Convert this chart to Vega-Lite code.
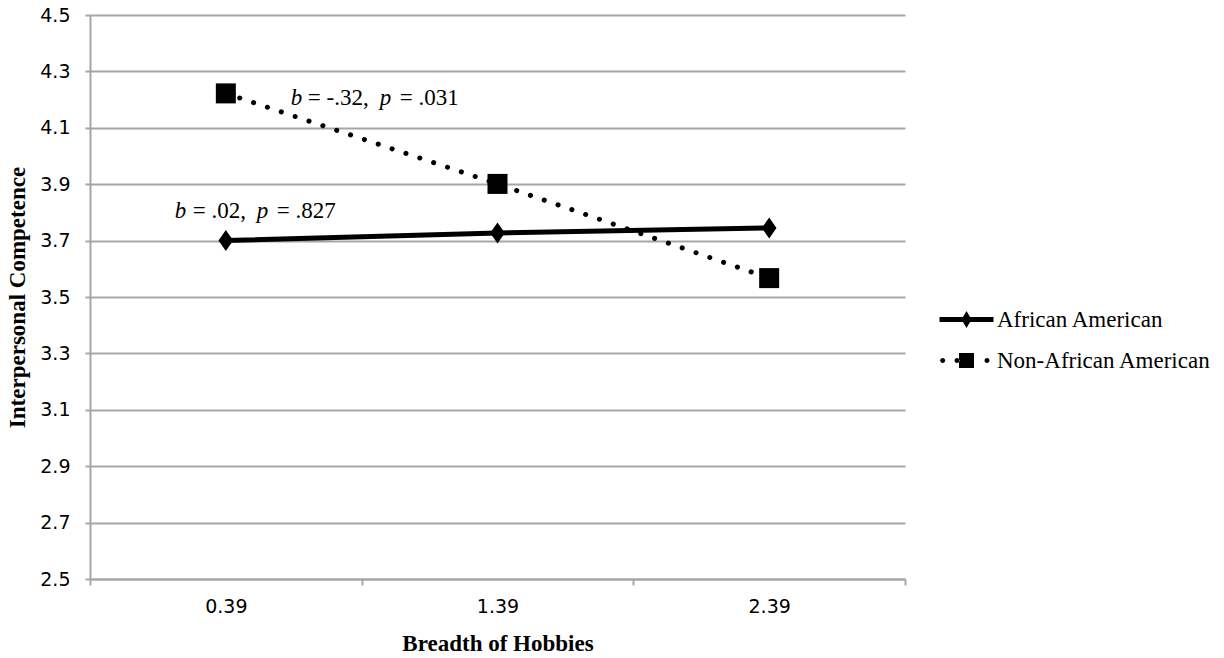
{
  "$schema": "https://vega.github.io/schema/vega-lite/v6.json",
  "width": 815,
  "height": 564,
  "autosize": {"type": "none"},
  "padding": {"left": 90, "top": 15, "right": 319, "bottom": 79},
  "background": "white",
  "config": {
    "view": {"stroke": null},
    "axis": {
      "domainColor": "#a6a6a6",
      "domainWidth": 2,
      "tickColor": "#a6a6a6",
      "tickWidth": 2,
      "gridColor": "#a6a6a6",
      "gridWidth": 2,
      "labelFont": "DejaVu Sans",
      "labelFontSize": 19,
      "labelColor": "black",
      "titleFont": "Liberation Serif",
      "titleFontWeight": "bold",
      "titleFontSize": 23,
      "titleColor": "black"
    }
  },
  "datasets": {
    "pts": [
      {"hobbies": "0.39", "competence": 3.70, "group": "African American"},
      {"hobbies": "1.39", "competence": 3.727, "group": "African American"},
      {"hobbies": "2.39", "competence": 3.745, "group": "African American"},
      {"hobbies": "0.39", "competence": 4.222, "group": "Non-African American"},
      {"hobbies": "1.39", "competence": 3.901, "group": "Non-African American"},
      {"hobbies": "2.39", "competence": 3.567, "group": "Non-African American"}
    ],
    "notes": [
      {"hobbies": "0.39", "competence": 4.181, "which": "n1", "b": "b", "eq1": "= -.32,", "p": "p", "eq2": "= .031"},
      {"hobbies": "0.39", "competence": 3.780, "which": "n2", "b": "b", "eq1": "= .02,", "p": "p", "eq2": "= .827"}
    ]
  },
  "encoding": {
    "x": {
      "field": "hobbies",
      "type": "ordinal",
      "sort": ["0.39", "1.39", "2.39"],
      "scale": {"type": "band", "paddingInner": 0, "paddingOuter": 0},
      "axis": {
        "title": "Breadth of Hobbies",
        "labelAngle": 0,
        "tickBand": "extent",
        "tickSize": 6,
        "labelPadding": 12,
        "titlePadding": 16,
        "grid": false
      }
    },
    "y": {
      "field": "competence",
      "type": "quantitative",
      "scale": {"domain": [2.5, 4.5], "zero": false, "nice": false},
      "axis": {
        "title": "Interpersonal Competence",
        "values": [2.5, 2.7, 2.9, 3.1, 3.3, 3.5, 3.7, 3.9, 4.1, 4.3, 4.5],
        "format": ".1f",
        "tickSize": 5,
        "labelPadding": 15,
        "titlePadding": 10,
        "grid": true
      }
    }
  },
  "layer": [
    {
      "data": {"name": "pts"},
      "transform": [{"filter": "datum.group === 'African American'"}],
      "mark": {"type": "line", "strokeWidth": 5, "strokeCap": "round", "color": "black"},
      "encoding": {}
    },
    {
      "data": {"name": "pts"},
      "transform": [{"filter": "datum.group === 'Non-African American'"}],
      "mark": {"type": "line", "strokeWidth": 5, "strokeCap": "round", "strokeDash": [0.1, 14.5], "color": "black"},
      "encoding": {}
    },
    {
      "data": {"name": "pts"},
      "transform": [{"filter": "datum.group === 'African American'"}],
      "mark": {"type": "point", "filled": true, "opacity": 1, "color": "black", "strokeWidth": 0, "size": 441, "shape": "M-0.7,0L0,-1L0.7,0L0,1Z"},
      "encoding": {}
    },
    {
      "data": {"name": "pts"},
      "transform": [{"filter": "datum.group === 'Non-African American'"}],
      "mark": {"type": "point", "filled": true, "opacity": 1, "color": "black", "strokeWidth": 0, "size": 400, "shape": "square"},
      "encoding": {}
    },
    {
      "data": {"name": "pts"},
      "mark": {"type": "point", "filled": true, "opacity": 0, "color": "black", "strokeWidth": 0, "size": 400},
      "encoding": {
        "shape": {
          "field": "group",
          "type": "nominal",
          "scale": {
            "domain": ["African American", "Non-African American"],
            "range": [
              "M-2.7,-0.25L2.7,-0.25L2.7,0.25L-2.7,0.25Z M-0.5,0L0,-0.85L0.5,0L0,0.85Z",
              "M-2.63,0a0.25,0.25 0 1,0 0.5,0a0.25,0.25 0 1,0 -0.5,0Z M-1.2,0a0.25,0.25 0 1,0 0.5,0a0.25,0.25 0 1,0 -0.5,0Z M1.8,0a0.25,0.25 0 1,0 0.5,0a0.25,0.25 0 1,0 -0.5,0Z M-0.75,-0.75L0.75,-0.75L0.75,0.75L-0.75,0.75Z"
            ]
          },
          "legend": {
            "orient": "none",
            "legendX": 865,
            "legendY": 293,
            "title": null,
            "symbolSize": 400,
            "symbolOpacity": 1,
            "symbolFillColor": "black",
            "symbolStrokeWidth": 0,
            "labelFont": "Liberation Serif",
            "labelFontSize": 23,
            "labelColor": "black",
            "labelLimit": 400,
            "labelOffset": 19,
            "rowPadding": 17
          }
        }
      }
    },
    {
      "data": {"name": "notes"},
      "transform": [{"filter": "datum.which === 'n1'"}],
      "mark": {"type": "text", "align": "left", "baseline": "alphabetic", "font": "Liberation Serif", "fontSize": 23, "fontStyle": "italic", "color": "black", "dx": 65},
      "encoding": {"text": {"field": "b"}}
    },
    {
      "data": {"name": "notes"},
      "transform": [{"filter": "datum.which === 'n1'"}],
      "mark": {"type": "text", "align": "left", "baseline": "alphabetic", "font": "Liberation Serif", "fontSize": 23, "color": "black", "dx": 82},
      "encoding": {"text": {"field": "eq1"}}
    },
    {
      "data": {"name": "notes"},
      "transform": [{"filter": "datum.which === 'n1'"}],
      "mark": {"type": "text", "align": "left", "baseline": "alphabetic", "font": "Liberation Serif", "fontSize": 23, "fontStyle": "italic", "color": "black", "dx": 154},
      "encoding": {"text": {"field": "p"}}
    },
    {
      "data": {"name": "notes"},
      "transform": [{"filter": "datum.which === 'n1'"}],
      "mark": {"type": "text", "align": "left", "baseline": "alphabetic", "font": "Liberation Serif", "fontSize": 23, "color": "black", "dx": 174},
      "encoding": {"text": {"field": "eq2"}}
    },
    {
      "data": {"name": "notes"},
      "transform": [{"filter": "datum.which === 'n2'"}],
      "mark": {"type": "text", "align": "left", "baseline": "alphabetic", "font": "Liberation Serif", "fontSize": 23, "fontStyle": "italic", "color": "black", "dx": -51},
      "encoding": {"text": {"field": "b"}}
    },
    {
      "data": {"name": "notes"},
      "transform": [{"filter": "datum.which === 'n2'"}],
      "mark": {"type": "text", "align": "left", "baseline": "alphabetic", "font": "Liberation Serif", "fontSize": 23, "color": "black", "dx": -33},
      "encoding": {"text": {"field": "eq1"}}
    },
    {
      "data": {"name": "notes"},
      "transform": [{"filter": "datum.which === 'n2'"}],
      "mark": {"type": "text", "align": "left", "baseline": "alphabetic", "font": "Liberation Serif", "fontSize": 23, "fontStyle": "italic", "color": "black", "dx": 31},
      "encoding": {"text": {"field": "p"}}
    },
    {
      "data": {"name": "notes"},
      "transform": [{"filter": "datum.which === 'n2'"}],
      "mark": {"type": "text", "align": "left", "baseline": "alphabetic", "font": "Liberation Serif", "fontSize": 23, "color": "black", "dx": 51},
      "encoding": {"text": {"field": "eq2"}}
    }
  ]
}
